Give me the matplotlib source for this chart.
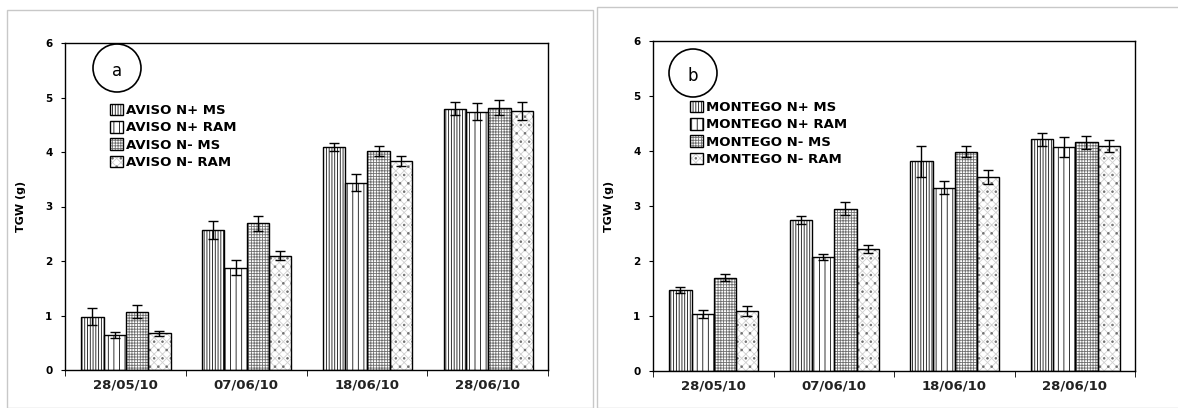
import numpy as np
import matplotlib
matplotlib.use("Agg")
import matplotlib.pyplot as plt
from matplotlib.patches import Patch, Ellipse, Rectangle

plt.rcParams['font.family'] = ['DejaVu Sans']
plt.rcParams['hatch.linewidth'] = 0.6

#====== data
dates = ['28/05/10', '07/06/10', '18/06/10', '28/06/10']

aviso_labels = ['AVISO N+ MS', 'AVISO N+ RAM', 'AVISO N- MS', 'AVISO N- RAM']
aviso_np_ms = [0.98, 2.57, 4.09, 4.79]
aviso_np_ram = [0.64, 1.88, 3.44, 4.74]
aviso_nm_ms = [1.07, 2.69, 4.02, 4.81]
aviso_nm_ram = [0.67, 2.10, 3.84, 4.75]
aviso_np_ms_err = [0.16, 0.17, 0.08, 0.12]
aviso_np_ram_err = [0.05, 0.14, 0.16, 0.15]
aviso_nm_ms_err = [0.12, 0.14, 0.09, 0.14]
aviso_nm_ram_err = [0.04, 0.09, 0.09, 0.16]

montego_labels = ['MONTEGO N+ MS', 'MONTEGO N+ RAM', 'MONTEGO N- MS', 'MONTEGO N- RAM']
montego_np_ms = [1.47, 2.74, 3.81, 4.21]
montego_np_ram = [1.04, 2.07, 3.33, 4.07]
montego_nm_ms = [1.70, 2.95, 3.99, 4.16]
montego_nm_ram = [1.09, 2.22, 3.53, 4.09]
montego_np_ms_err = [0.05, 0.07, 0.28, 0.12]
montego_np_ram_err = [0.07, 0.05, 0.12, 0.18]
montego_nm_ms_err = [0.07, 0.12, 0.10, 0.12]
montego_nm_ram_err = [0.09, 0.08, 0.13, 0.11]

# hatch layers for each series: (pattern, colour)
layers = [
    [('||||||', '#111111')],
    [('|||', '#111111')],
    [('++++++', '#707070')],
    [('xxxx', '#d0d0d0'), ('..', '#707070')],
]

W, H = 1178, 408
fig = plt.figure(figsize=(W / 100, H / 100), dpi=100)

# panel frames (light grey boxes round each chart)
fig.add_artist(Rectangle((7 / W, 0), 586 / W, (H - 10) / H, transform=fig.transFigure,
                         fill=False, edgecolor='#c8c8c8', lw=1))
fig.add_artist(Rectangle((597 / W, 0), 600 / W, (H - 7) / H, transform=fig.transFigure,
                         fill=False, edgecolor='#c8c8c8', lw=1))

axA = fig.add_axes([65 / W, (H - 370) / H, 483 / W, 327 / H])
axB = fig.add_axes([653 / W, (H - 371) / H, 482 / W, 330 / H])


def draw_panel(ax, series, errs, labels, letter, circ_xy, leg_xy):
    x = np.arange(len(dates))
    w = 0.185
    handles = []
    for i, (vals, err) in enumerate(zip(series, errs)):
        pos = x + (i - 1.5) * w + 0.005
        ax.bar(pos, vals, w, color='white', linewidth=0, zorder=2)
        parts = [Patch(facecolor='white', edgecolor='none')]
        for hatch, col in layers[i]:
            ax.bar(pos, vals, w, facecolor='none', edgecolor=col, hatch=hatch, linewidth=0, zorder=2)
            parts.append(Patch(facecolor='none', edgecolor=col, hatch=hatch, linewidth=0))
        ax.bar(pos, vals, w, fill=False, edgecolor='black', linewidth=1.0, zorder=3)
        ax.errorbar(pos, vals, yerr=err, fmt='none', ecolor='black', elinewidth=1.0,
                    capsize=3.5, capthick=1.0, zorder=4)
        parts.append(Patch(facecolor='none', edgecolor='black', linewidth=1.0))
        handles.append(tuple(parts))

    ax.set_xlim(-0.5, 3.5)
    ax.set_ylim(0, 6)
    ax.set_xticks(x)
    ax.set_xticklabels(dates, fontsize=9.5, fontweight='bold', color='#222222')
    ax.set_xticks(np.arange(-0.5, 4.0, 1.0), minor=True)
    ax.tick_params(axis='x', which='major', length=0, pad=6)
    ax.tick_params(axis='x', which='minor', length=4, direction='out')
    ax.set_yticks(range(7))
    ax.set_yticklabels([str(v) for v in range(7)], fontsize=7.5, fontweight='bold')
    ax.tick_params(axis='y', length=3, pad=6, direction='out')
    ax.set_ylabel('TGW (g)', fontsize=8, fontweight='bold', labelpad=14)
    for s in ax.spines.values():
        s.set_linewidth(1.0)

    ax.legend(handles, labels, loc='upper left', bbox_to_anchor=(leg_xy[0] / W, 1 - leg_xy[1] / H),
              bbox_transform=fig.transFigure, frameon=False, borderpad=0, borderaxespad=0,
              handlelength=0.95, handleheight=0.95, handletextpad=0.25, labelspacing=0.3,
              prop={'size': 9.5, 'weight': 'bold'})

    # circled panel letter
    r = 24
    fig.add_artist(Ellipse((circ_xy[0] / W, 1 - circ_xy[1] / H), 2 * r / W, 2 * r / H,
                           transform=fig.transFigure, fill=False, edgecolor='black', lw=1.2))
    fig.text(circ_xy[0] / W, 1 - (circ_xy[1] + 3) / H, letter, ha='center', va='center', fontsize=12)


draw_panel(axA,
           [aviso_np_ms, aviso_np_ram, aviso_nm_ms, aviso_nm_ram],
           [aviso_np_ms_err, aviso_np_ram_err, aviso_nm_ms_err, aviso_nm_ram_err],
           aviso_labels, 'a', (117, 68), (110, 104))
draw_panel(axB,
           [montego_np_ms, montego_np_ram, montego_nm_ms, montego_nm_ram],
           [montego_np_ms_err, montego_np_ram_err, montego_nm_ms_err, montego_nm_ram_err],
           montego_labels, 'b', (693, 73), (690, 101))

fig.savefig('out.png', dpi=100)
